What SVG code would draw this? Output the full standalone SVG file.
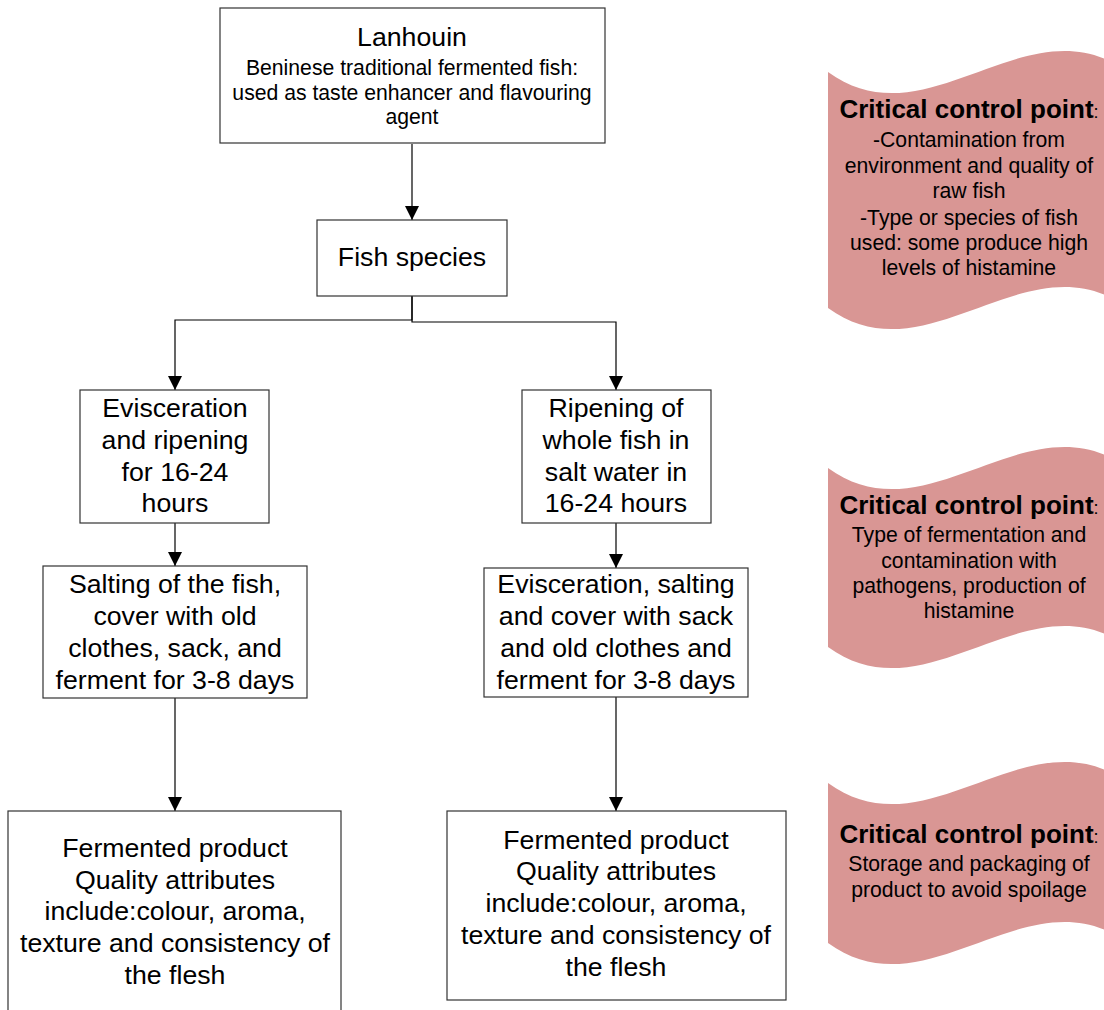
<svg xmlns="http://www.w3.org/2000/svg" width="1104" height="1010" viewBox="0 0 1104 1010">
<style>
.box{fill:#fff;stroke:#333;stroke-width:1.2}
.t{font-family:"Liberation Sans",Arial,sans-serif;font-size:26.7px;fill:#000;text-anchor:middle}
.s{font-family:"Liberation Sans",Arial,sans-serif;font-size:21.2px;fill:#000;text-anchor:middle}
.h{font-family:"Liberation Sans",Arial,sans-serif;font-size:26px;font-weight:bold;fill:#000;text-anchor:middle}
.wave{fill:#d99694;stroke:none}
.c{fill:none;stroke:#000;stroke-width:1.2}
</style>
<defs>
<marker id="arr" markerUnits="userSpaceOnUse" markerWidth="14" markerHeight="14" refX="14" refY="7" orient="auto">
<path d="M0,0 L14,7 L0,14 z" fill="#000"/>
</marker>
</defs>
<rect width="1104" height="1010" fill="#fff"/>

<g id="connectors">
<path class="c" d="M412,144 V220" marker-end="url(#arr)"/>
<path class="c" d="M412,296 V320 H175 V390" marker-end="url(#arr)"/>
<path class="c" d="M412,296 V322 H616 V390" marker-end="url(#arr)"/>
<path class="c" d="M175,523 V566" marker-end="url(#arr)"/>
<path class="c" d="M616,523 V568" marker-end="url(#arr)"/>
<path class="c" d="M175,698 V811" marker-end="url(#arr)"/>
<path class="c" d="M616,697 V811" marker-end="url(#arr)"/>
</g>

<g id="lanhouin">
<rect class="box" x="220" y="8" width="385" height="135"/>
<text class="t" x="412" y="46">Lanhouin</text>
<text class="s" x="412" y="75">Beninese traditional fermented fish:</text>
<text class="s" x="412" y="100">used as taste enhancer and flavouring</text>
<text class="s" x="412" y="124">agent</text>
</g>

<g id="fish-species">
<rect class="box" x="317" y="220" width="190" height="76"/>
<text class="t" x="412" y="266">Fish species</text>
</g>

<g id="evisceration-ripening">
<rect class="box" x="80" y="390" width="189" height="133"/>
<text class="t" x="175" y="417">Evisceration</text>
<text class="t" x="175" y="449">and ripening</text>
<text class="t" x="175" y="481">for 16-24</text>
<text class="t" x="175" y="512">hours</text>
</g>

<g id="ripening-whole">
<rect class="box" x="522" y="390" width="189" height="133"/>
<text class="t" x="616" y="417">Ripening of</text>
<text class="t" x="616" y="449">whole fish in</text>
<text class="t" x="616" y="481">salt water in</text>
<text class="t" x="616" y="512">16-24 hours</text>
</g>

<g id="salting-left">
<rect class="box" x="43" y="566" width="264" height="132"/>
<text class="t" x="175" y="593">Salting of the fish,</text>
<text class="t" x="175" y="625">cover with old</text>
<text class="t" x="175" y="657">clothes, sack, and</text>
<text class="t" x="175" y="689">ferment for 3-8 days</text>
</g>

<g id="salting-right">
<rect class="box" x="484" y="568" width="264" height="129"/>
<text class="t" x="616" y="593">Evisceration, salting</text>
<text class="t" x="616" y="625">and cover with sack</text>
<text class="t" x="616" y="657">and old clothes and</text>
<text class="t" x="616" y="689">ferment for 3-8 days</text>
</g>

<g id="product-left">
<rect class="box" x="8" y="811" width="333" height="210"/>
<text class="t" x="175" y="857">Fermented product</text>
<text class="t" x="175" y="889">Quality attributes</text>
<text class="t" x="175" y="920">include:colour, aroma,</text>
<text class="t" x="175" y="952">texture and consistency of</text>
<text class="t" x="175" y="984">the flesh</text>
</g>

<g id="product-right">
<rect class="box" x="447" y="811" width="339" height="189"/>
<text class="t" x="616" y="849">Fermented product</text>
<text class="t" x="616" y="880">Quality attributes</text>
<text class="t" x="616" y="912">include:colour, aroma,</text>
<text class="t" x="616" y="944">texture and consistency of</text>
<text class="t" x="616" y="976">the flesh</text>
</g>

<g id="ccp1">
<path class="wave" d="M828,72 C928,145 1028,-1 1128,72 V308 C1028,235 928,381 828,308 Z"/>
<text class="h" x="969" y="118">Critical control point<tspan font-weight="normal" font-size="18">:</tspan></text>
<text class="s" x="969" y="147">-Contamination from</text>
<text class="s" x="969" y="173">environment and quality of</text>
<text class="s" x="969" y="198">raw fish</text>
<text class="s" x="969" y="225">-Type or species of fish</text>
<text class="s" x="969" y="250">used: some produce high</text>
<text class="s" x="969" y="275">levels of histamine</text>
</g>

<g id="ccp2">
<path class="wave" d="M828,468 C928,541 1028,395 1128,468 V647 C1028,574 928,720 828,647 Z"/>
<text class="h" x="969" y="514">Critical control point<tspan font-weight="normal" font-size="18">:</tspan></text>
<text class="s" x="969" y="542">Type of fermentation and</text>
<text class="s" x="969" y="568">contamination with</text>
<text class="s" x="969" y="593">pathogens, production of</text>
<text class="s" x="969" y="618">histamine</text>
</g>

<g id="ccp3">
<path class="wave" d="M828,783 C928,856 1028,710 1128,783 V943 C1028,870 928,1016 828,943 Z"/>
<text class="h" x="969" y="843">Critical control point<tspan font-weight="normal" font-size="18">:</tspan></text>
<text class="s" x="969" y="871">Storage and packaging of</text>
<text class="s" x="969" y="897">product to avoid spoilage</text>
</g>
</svg>
